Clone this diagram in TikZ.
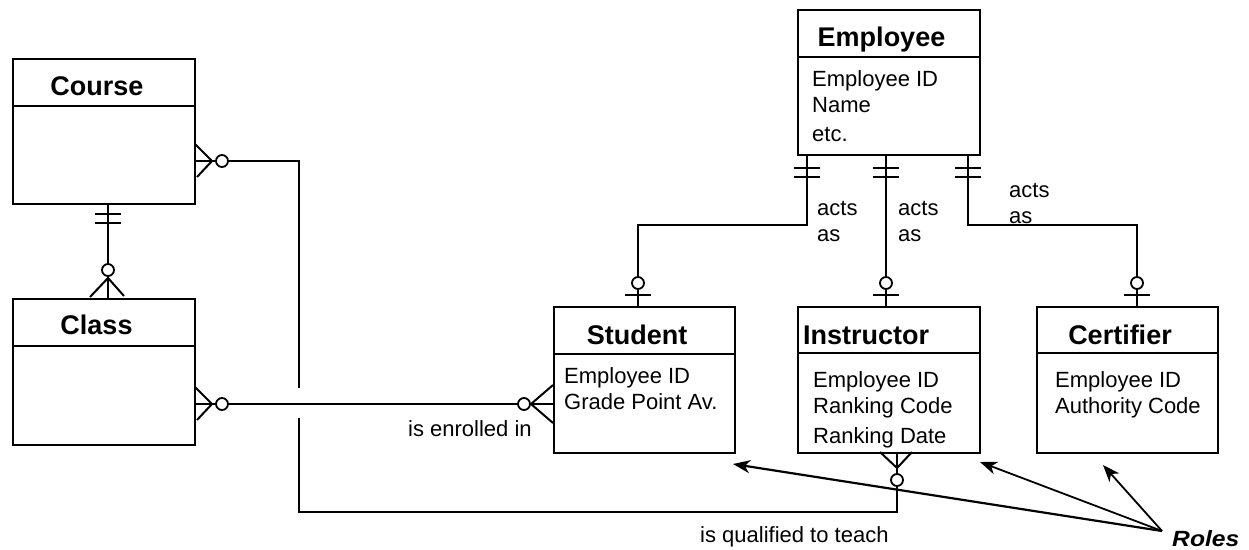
\documentclass[tikz,border=0pt]{standalone}
\usepackage{fontspec}
\setmainfont{Liberation Sans}
\usetikzlibrary{arrows.meta}
\begin{document}
\begin{tikzpicture}[x=1pt,y=-1pt,
  ent/.style={draw, line width=2.2pt, anchor=north west, inner sep=0pt},
  conn/.style={line width=2pt},
  hop/.style={line width=1.8pt, fill=white},
  ttl/.style={font=\fontsize{27}{32}\selectfont\bfseries, inner sep=0pt, text height=19pt, text depth=0pt},
  fld/.style={font=\fontsize{22}{26}\selectfont, inner sep=0pt, anchor=base west},
  rolearrow/.style={line width=1.8pt, -{Stealth[length=17pt,width=13pt,inset=5pt]}},
]
\useasboundingbox (0,0) rectangle (1249,549);

% ---------- entity boxes ----------
\node[ent, minimum width=182pt, minimum height=145pt] (course) at (12,58) {};
\node[ent, minimum width=182pt, minimum height=146pt] (class) at (12,298) {};
\node[ent, minimum width=182pt, minimum height=145pt] (employee) at (797,9) {};
\node[ent, minimum width=181pt, minimum height=146pt] (student) at (553,306) {};
\node[ent, minimum width=182pt, minimum height=146pt] (instructor) at (797,306) {};
\node[ent, minimum width=181pt, minimum height=146pt] (certifier) at (1036,306) {};

% header lines
\draw[line width=2.2pt] (12,106) -- (194,106);
\draw[line width=2.2pt] (12,346) -- (194,346);
\draw[line width=2.2pt] (797,57) -- (979,57);
\draw[line width=2.2pt] (553,354) -- (734,354);
\draw[line width=2.2pt] (797,353) -- (979,353);
\draw[line width=2.2pt] (1036,353) -- (1219,353);

% titles
\node[ttl] (courseT) at (97,86) {Course};
\node[ttl] (classT) at (96.5,325) {Class};
\node[ttl] (employeeT) at (881.5,37) {Employee};
\node[ttl] (studentT) at (637,334.5) {Student};
\node[ttl, anchor=west] (instructorT) at (803,335) {Instructor};
\node[ttl] (certifierT) at (1120,335) {Certifier};

% fields
\node[fld] (eF1) at (812,86) {Employee ID};
\node[fld] (eF2) at (812,112) {Name};
\node[fld] (eF3) at (812,141) {etc.};
\node[fld] (sF1) at (564,383) {Employee ID};
\node[fld] (sF2) at (564,409) {Grade Point Av.};
\node[fld] (iF1) at (813,387) {Employee ID};
\node[fld] (iF2) at (813,413) {Ranking Code};
\node[fld] (iF3) at (813,443) {Ranking Date};
\node[fld] (cF1) at (1055,387) {Employee ID};
\node[fld] (cF2) at (1055,413) {Authority Code};

% ---------- attachment points ----------
\coordinate (courseS) at (108,203);
\coordinate (classN) at (108,298);
\coordinate (courseE) at (194,161);
\coordinate (classE) at (194,404);
\coordinate (studentW) at (553,404);
\coordinate (instrS) at (897,452);
\coordinate (empS1) at (807,154);
\coordinate (empS2) at (886,154);
\coordinate (empS3) at (968,154);
\coordinate (studN) at (638,306);
\coordinate (instrN) at (886,306);
\coordinate (certN) at (1137,306);

% ---------- connectors ----------
% Course -- Class
\draw[conn] (courseS) -- (classN);
\draw[conn] (95,214) -- (121,214);
\draw[conn] (95,223) -- (121,223);
\draw[conn] (90,297) -- (108,278) -- (124,296);
\draw[hop] (108,270) circle[radius=6];

% Course -- Instructor (is qualified to teach), with line hop
\draw[conn] (courseE) -- (299,161) -- (299,388);
\draw[conn] (299,418) -- (299,512) -- (897,512) -- (instrS);
\draw[conn] (195,144) -- (212,161) -- (197,177);
\draw[hop] (222,161) circle[radius=6];
\draw[conn] (880,452) -- (897,468) -- (912,452);
\draw[hop] (897,480) circle[radius=6];

% Class -- Student (is enrolled in)
\draw[conn] (classE) -- (studentW);
\draw[conn] (195,387) -- (212,404) -- (197,420);
\draw[hop] (222,404) circle[radius=6];
\draw[conn] (553,385) -- (531,404) -- (553,423);
\draw[hop] (524,404) circle[radius=6];

% Employee -- roles
\draw[conn] (empS1) -- (807,225) -- (638,225) -- (studN);
\draw[conn] (empS2) -- (instrN);
\draw[conn] (empS3) -- (968,225) -- (1137,225) -- (certN);
\foreach \x in {807,886,968}{
  \draw[conn] (\x-13,168) -- (\x+13,168);
  \draw[conn] (\x-13,177) -- (\x+13,177);
}
\foreach \x in {638,886,1137}{
  \draw[conn] (\x-13,295) -- (\x+13,295);
  \draw[hop] (\x,283) circle[radius=6];
}

% ---------- labels ----------
\node[fld] (acts1) at (817,215) {acts};
\node[fld] (as1) at (817,241) {as};
\node[fld] (acts2) at (898,215) {acts};
\node[fld] (as2) at (898,241) {as};
\node[fld] (acts3) at (1009,197) {acts};
\node[fld] (as3) at (1009,223) {as};
\node[fld] (enrolled) at (408,436) {is enrolled in};
\node[fld] (qualified) at (700,542) {is qualified to teach};
\node[fld, font=\fontsize{22}{26}\selectfont\bfseries\itshape, xscale=1.12] (roles) at (1172,546) {Roles};

% ---------- role arrows ----------
\coordinate (rs) at (1162,531);
\coordinate (tS) at (733,464);
\coordinate (tI) at (980,462);
\coordinate (tC) at (1103,465);
\draw[rolearrow, line width=2.2pt] (rs) -- (tS);
\draw[rolearrow] (rs) -- (tI);
\draw[rolearrow] (rs) -- (tC);
\end{tikzpicture}
\end{document}
